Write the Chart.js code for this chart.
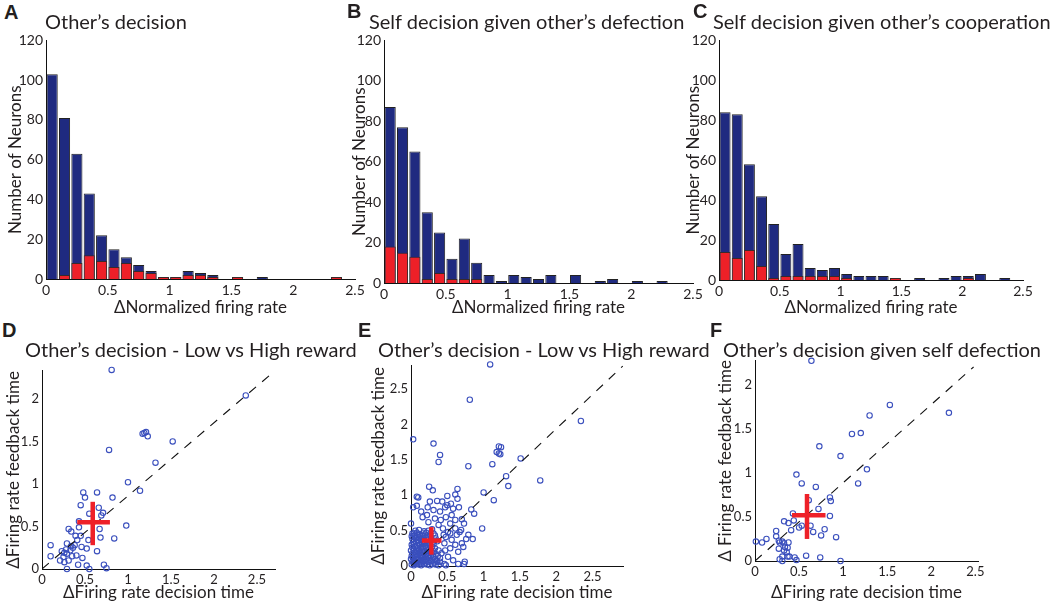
<!DOCTYPE html>
<html>
<head>
<meta charset="utf-8">
<script src="https://cdn.jsdelivr.net/npm/chart.js@4.4.1/dist/chart.umd.min.js"></script>
<style>
  body { margin: 0; background: #fff; width: 1050px; height: 604px; position: relative; overflow: hidden; font-family: Lato, sans-serif; color: #231f20; }
  canvas { position: absolute; }
  .letter { position: absolute; font: bold 20px "Liberation Sans", Arial, sans-serif; line-height: 1; }
  .title { position: absolute; font-size: 20px; line-height: 1; white-space: nowrap; }
</style>
</head>
<body>
<canvas id="chartA"></canvas>
<canvas id="chartB"></canvas>
<canvas id="chartC"></canvas>
<canvas id="chartD"></canvas>
<canvas id="chartE"></canvas>
<canvas id="chartF"></canvas>

<div class="letter" style="left:4px;top:2px">A</div>
<div class="letter" style="left:347px;top:1px">B</div>
<div class="letter" style="left:693px;top:1px">C</div>
<div class="letter" style="left:2px;top:320px">D</div>
<div class="letter" style="left:358px;top:320px">E</div>
<div class="letter" style="left:710px;top:320px">F</div>

<div class="title" style="left:45px;top:11px">Other’s decision</div>
<div class="title" style="left:369px;top:11px">Self decision given other’s defection</div>
<div class="title" style="left:713px;top:11px">Self decision given other’s cooperation</div>
<div class="title" style="left:25px;top:339px">Other’s decision - Low vs High reward</div>
<div class="title" style="left:378px;top:339px">Other’s decision - Low vs High reward</div>
<div class="title" style="left:723px;top:339px">Other’s decision given self defection</div>

<script>
// histogram bins (bin width 0.1)
const binCenters = [0.05, 0.15, 0.25, 0.35, 0.45, 0.55, 0.65, 0.75, 0.85, 0.95, 1.05, 1.15, 1.25,
                    1.35, 1.45, 1.55, 1.65, 1.75, 1.85, 1.95, 2.05, 2.15, 2.25, 2.35, 2.45];

const aAll = [103, 81, 63, 43, 22, 15, 11, 7, 4, 1, 1, 4, 3, 2, 0, 1, 0, 1, 0, 0, 0, 0, 0, 1, 0];
const aSig = [0, 2, 8, 12, 9, 6, 8, 4, 3, 1, 1, 2, 2, 1, 0, 1, 0, 0, 0, 0, 0, 0, 0, 1, 0];

const bAll = [87, 77, 65, 35, 25, 12, 22, 10, 4, 1, 4, 3, 2, 4, 0, 4, 0, 1, 2, 0, 1, 0, 1, 0, 0];
const bSig = [18, 15, 13, 2, 5, 2, 2, 2, 0, 0, 0, 0, 0, 0, 0, 0, 0, 0, 0, 0, 0, 0, 0, 0, 0];

const cAll = [84, 83, 58, 42, 28, 13, 18, 6, 5, 6, 3, 2, 2, 2, 1, 0, 1, 0, 1, 2, 2, 3, 0, 1, 0];
const cSig = [14, 11, 15, 7, 1, 2, 2, 2, 2, 2, 1, 0, 0, 0, 1, 0, 0, 0, 0, 0, 1, 0, 0, 0, 0];

const histTicksX = [0, 0.5, 1, 1.5, 2, 2.5];
const histTicksY = [0, 20, 40, 60, 80, 100, 120];

// scatter panels: [decision time, feedback time]
const dPoints = [
  [0.81, 2.34], [2.37, 2.04], [1.19, 1.60], [1.21, 1.61], [1.23, 1.56], [1.17, 1.59], [1.52, 1.50],
  [0.78, 1.40], [1.32, 1.25], [1.00, 1.02], [1.14, 0.92], [0.48, 0.90], [0.64, 0.90], [0.50, 0.84],
  [0.82, 0.84], [0.45, 0.75], [0.66, 0.72], [0.71, 0.66], [0.55, 0.65], [0.69, 0.63], [0.43, 0.56],
  [0.43, 0.49], [0.31, 0.47], [0.34, 0.44], [0.67, 0.47], [0.98, 0.51], [0.39, 0.39], [0.45, 0.39],
  [0.41, 0.34], [0.54, 0.34], [0.68, 0.37], [0.84, 0.36], [0.29, 0.30], [0.34, 0.27], [0.38, 0.28],
  [0.46, 0.26], [0.52, 0.24], [0.64, 0.21], [0.10, 0.28], [0.10, 0.15], [0.23, 0.21], [0.26, 0.19],
  [0.29, 0.18], [0.33, 0.22], [0.36, 0.25], [0.21, 0.10], [0.26, 0.08], [0.31, 0.10], [0.35, 0.15],
  [0.25, 0.14], [0.42, 0.05], [0.52, 0.04], [0.55, 0.00], [0.29, 0.00], [0.72, 0.05], [0.75, 0.01],
  [0.47, 0.13], [0.40, 0.16], [0.28, 0.23]
];

const ePoints = [
  [1.09, 2.85], [0.81, 2.35], [2.34, 2.05], [0.03, 1.79], [0.31, 1.73], [0.40, 1.57], [0.38, 1.47],
  [1.21, 1.69], [1.24, 1.68], [1.18, 1.61], [1.21, 1.59], [1.23, 1.58], [1.51, 1.52], [1.12, 1.44],
  [0.79, 1.41], [1.31, 1.27], [1.34, 1.13], [1.78, 1.21], [1.00, 1.04], [1.14, 0.93], [0.25, 1.12],
  [0.30, 1.07], [0.08, 0.98], [0.10, 0.97], [0.36, 0.92], [0.50, 0.99], [0.61, 1.01], [0.64, 1.09],
  [0.55, 0.88], [0.43, 0.91], [0.47, 0.83], [0.64, 0.95], [0.50, 0.86], [0.26, 0.91], [0.40, 0.77],
  [0.58, 0.81], [0.66, 0.83], [0.03, 0.83], [0.08, 0.85], [0.23, 0.83], [0.14, 0.77], [0.22, 0.72],
  [0.31, 0.79], [0.16, 0.69], [0.33, 0.67], [0.41, 0.65], [0.48, 0.69], [0.56, 0.72], [0.61, 0.65],
  [0.54, 0.60], [0.70, 0.66], [0.73, 0.60], [0.83, 0.80], [0.87, 0.74], [0.98, 0.53], [0.69, 0.51],
  [0.79, 0.44], [0.63, 0.44], [0.51, 0.48], [0.44, 0.53], [0.48, 0.41], [0.56, 0.37], [0.85, 0.38],
  [0.72, 0.27], [0.65, 0.20], [0.61, 0.30], [0.54, 0.25], [0.47, 0.22], [0.51, 0.13], [0.58, 0.08],
  [0.74, 0.06], [0.73, 0.03], [0.65, 0.03], [0.46, 0.03], [0.40, 0.06], [0.00, 0.60], [0.02, 0.46],
  [0.24, 0.62], [0.38, 0.58], [0.46, 0.32], [0.42, 0.18], [0.76, 0.38], [0.67, 0.48], [0.54, 0.46],
  [0.45, 0.44], [0.61, 0.53], [0.70, 0.32], [0.48, 0.01], [0.35, 0.08],
  // dense cluster near the origin
  [0.01, 0.02], [0.04, 0.01], [0.07, 0.03], [0.11, 0.02], [0.14, 0.01], [0.18, 0.03], [0.22, 0.02],
  [0.26, 0.01], [0.30, 0.03], [0.34, 0.02], [0.38, 0.01], [0.02, 0.06], [0.05, 0.07], [0.09, 0.05],
  [0.12, 0.06], [0.16, 0.07], [0.20, 0.05], [0.24, 0.06], [0.28, 0.07], [0.32, 0.05], [0.36, 0.06],
  [0.00, 0.10], [0.03, 0.11], [0.07, 0.09], [0.10, 0.10], [0.14, 0.11], [0.17, 0.09], [0.21, 0.10],
  [0.25, 0.11], [0.29, 0.09], [0.33, 0.10], [0.40, 0.11], [0.01, 0.14], [0.05, 0.15], [0.08, 0.13],
  [0.12, 0.14], [0.15, 0.15], [0.19, 0.13], [0.23, 0.14], [0.27, 0.15], [0.31, 0.13], [0.37, 0.14],
  [0.02, 0.18], [0.06, 0.19], [0.10, 0.17], [0.13, 0.18], [0.17, 0.19], [0.21, 0.17], [0.25, 0.18],
  [0.29, 0.19], [0.34, 0.17], [0.00, 0.22], [0.04, 0.23], [0.08, 0.21], [0.11, 0.22], [0.15, 0.23],
  [0.19, 0.21], [0.23, 0.22], [0.27, 0.23], [0.31, 0.21], [0.38, 0.22], [0.02, 0.26], [0.06, 0.27],
  [0.09, 0.25], [0.13, 0.26], [0.17, 0.27], [0.21, 0.25], [0.24, 0.26], [0.29, 0.27], [0.33, 0.25],
  [0.01, 0.30], [0.04, 0.31], [0.08, 0.29], [0.12, 0.30], [0.16, 0.31], [0.20, 0.29], [0.26, 0.30],
  [0.31, 0.31], [0.03, 0.34], [0.07, 0.35], [0.11, 0.33], [0.15, 0.34], [0.19, 0.35], [0.24, 0.33],
  [0.30, 0.34], [0.36, 0.35], [0.02, 0.38], [0.06, 0.39], [0.10, 0.37], [0.14, 0.38], [0.18, 0.39],
  [0.23, 0.37], [0.28, 0.38], [0.34, 0.39], [0.01, 0.42], [0.05, 0.43], [0.09, 0.41], [0.13, 0.42],
  [0.17, 0.43], [0.22, 0.41], [0.27, 0.42], [0.33, 0.43], [0.04, 0.46], [0.08, 0.47], [0.12, 0.45],
  [0.16, 0.46], [0.21, 0.47], [0.26, 0.45], [0.31, 0.46], [0.06, 0.50], [0.11, 0.51], [0.18, 0.49],
  [0.24, 0.50], [0.29, 0.52], [0.05, 0.04], [0.09, 0.08], [0.13, 0.04], [0.17, 0.12], [0.07, 0.16],
  [0.19, 0.07], [0.23, 0.19], [0.15, 0.20], [0.05, 0.28], [0.19, 0.32], [0.11, 0.40], [0.27, 0.35]
];

const fPoints = [
  [0.64, 2.27], [1.53, 1.77], [2.20, 1.68], [1.30, 1.65], [1.10, 1.44], [1.20, 1.45], [0.73, 1.30],
  [0.97, 1.19], [1.27, 1.04], [0.47, 0.98], [0.53, 0.88], [0.69, 0.84], [1.17, 0.88], [0.61, 0.69],
  [0.72, 0.59], [0.85, 0.72], [0.86, 0.68], [0.85, 0.51], [0.43, 0.54], [0.33, 0.45], [0.38, 0.43],
  [0.44, 0.46], [0.50, 0.38], [0.53, 0.40], [0.63, 0.40], [0.66, 0.33], [0.41, 0.35], [0.75, 0.29],
  [0.79, 0.36], [0.92, 0.27], [0.24, 0.34], [0.24, 0.28], [0.27, 0.23], [0.28, 0.21], [0.31, 0.22],
  [0.33, 0.20], [0.38, 0.21], [0.37, 0.15], [0.27, 0.14], [0.33, 0.12], [0.36, 0.10], [0.31, 0.05],
  [0.39, 0.05], [0.31, 0.00], [0.28, 0.02], [0.45, 0.04], [0.47, 0.01], [0.58, 0.06], [0.74, 0.04],
  [0.97, 0.00], [0.01, 0.22], [0.08, 0.21], [0.13, 0.25], [0.37, 0.05], [0.34, 0.16]
];

// axis extents [x max, y max], dashed diagonals and mean +/- spread crosses
const dAxisMax = [2.71, 2.33];
const eAxisMax = [2.92, 2.83];
const fAxisMax = [2.53, 2.27];
const dDiagonal = [[0, 0], [2.71, 2.33]];
const eDiagonal = [[0, 0], [2.92, 2.83]];
const fDiagonal = [[0, 0], [2.48, 2.20]];
const dCrossH = [[0.41, 0.55], [0.79, 0.55]];
const dCrossV = [[0.59, 0.28], [0.59, 0.79]];
const eCrossH = [[0.15, 0.36], [0.42, 0.36]];
const eCrossV = [[0.28, 0.16], [0.28, 0.55]];
const fCrossH = [[0.42, 0.52], [0.80, 0.52]];
const fCrossV = [[0.59, 0.25], [0.59, 0.76]];

const scatTicksX = [0, 0.5, 1, 1.5, 2, 2.5];
const dTicksY = [0, 0.5, 1, 1.5, 2];
const eTicksY = [0, 0.5, 1, 1.5, 2, 2.5];
const fTicksY = [0, 0.5, 1, 1.5, 2];

const ink = "#231f20";
const navy = "#1f2a80";
const red = "#ee2028";
const ringBlue = "#3a4fbd";

function placeCanvas(id, box) {
    const canvas = document.getElementById(id);
    canvas.width = box.w;
    canvas.height = box.h;
    canvas.style.left = box.x + "px";
    canvas.style.top = box.y + "px";
    return canvas;
}

function axisOptions(box, ticks, max, titleText, isX, fontSize) {
    return {
        type: "linear",
        min: 0,
        max: max,
        offset: false,
        border: { display: true, color: "#111", width: 1 },
        grid: { display: false, drawTicks: false },
        afterBuildTicks: scale => { scale.ticks = ticks.map(v => ({ value: v })); },
        afterFit: scale => {
            if (isX) scale.height = box.y + box.h - box.B;
            else scale.width = box.L - box.x;
        },
        ticks: {
            color: ink,
            padding: 3,
            autoSkip: false,
            maxRotation: 0,
            font: { family: "Lato", size: fontSize },
            callback: v => String(v)
        },
        title: {
            display: true,
            text: titleText,
            color: ink,
            font: { family: "Lato", size: 17 },
            padding: { top: 5, bottom: 0 }
        }
    };
}

function baseOptions(box) {
    return {
        responsive: false,
        animation: false,
        layout: { padding: { left: 0, top: box.T - box.y, right: box.x + box.w - box.R, bottom: 0 } },
        plugins: { legend: { display: false }, tooltip: { enabled: false } }
    };
}

function createHistogram(id, box, allCounts, sigCounts) {
    const canvas = placeCanvas(id, box);
    const opts = baseOptions(box);
    opts.scales = {
        x: axisOptions(box, histTicksX, 2.5, "ΔNormalized firing rate", true, 14),
        y: axisOptions(box, histTicksY, 120, "Number of Neurons", false, 14)
    };
    new Chart(canvas, {
        type: "bar",
        data: {
            datasets: [{
                data: binCenters.map((c, i) => ({ x: c, y: sigCounts[i] })),
                backgroundColor: red,
                borderColor: "#3a2a2a",
                borderWidth: 1,
                grouped: false,
                barPercentage: 0.9,
                categoryPercentage: 1
            }, {
                data: binCenters.map((c, i) => ({ x: c, y: allCounts[i] })),
                backgroundColor: navy,
                borderColor: "#222",
                borderWidth: 1,
                grouped: false,
                barPercentage: 0.9,
                categoryPercentage: 1
            }]
        },
        options: opts
    });
}

function createScatter(id, box, points, diagonal, crossH, crossV, axisMax, ticksY, yTitle) {
    const canvas = placeCanvas(id, box);
    const toXY = list => list.map(p => ({ x: p[0], y: p[1] }));
    const opts = baseOptions(box);
    opts.scales = {
        x: axisOptions(box, scatTicksX, axisMax[0], "ΔFiring rate decision time", true, 13),
        y: axisOptions(box, ticksY, axisMax[1], yTitle, false, 13)
    };
    new Chart(canvas, {
        type: "scatter",
        data: {
            datasets: [
                { type: "line", data: toXY(crossH), borderColor: red, borderWidth: 4.5, pointRadius: 0, clip: false },
                { type: "line", data: toXY(crossV), borderColor: red, borderWidth: 4.5, pointRadius: 0, clip: false },
                { type: "line", data: toXY(diagonal), borderColor: "#111", borderWidth: 1.1, borderDash: [9, 8], pointRadius: 0 },
                {
                    data: toXY(points),
                    pointRadius: 2.7,
                    borderWidth: 1.1,
                    borderColor: ringBlue,
                    backgroundColor: "rgba(0,0,0,0)",
                    clip: false
                }
            ]
        },
        options: opts
    });
}

createHistogram("chartA", { x: 0, y: 29, w: 369, h: 289, L: 46, T: 39, R: 355, B: 279 }, aAll, aSig);
createHistogram("chartB", { x: 344, y: 29, w: 363, h: 289, L: 384, T: 39, R: 693, B: 283 }, bAll, bSig);
createHistogram("chartC", { x: 678, y: 29, w: 359, h: 289, L: 719, T: 39, R: 1023, B: 280 }, cAll, cSig);

createScatter("chartD", { x: -2, y: 360, w: 291, h: 243, L: 42, T: 370, R: 275, B: 569 },
    dPoints, dDiagonal, dCrossH, dCrossV, dAxisMax, dTicksY, "ΔFiring rate feedback time");
createScatter("chartE", { x: 363, y: 355, w: 274, h: 248, L: 411, T: 365, R: 623, B: 566 },
    ePoints, eDiagonal, eCrossH, eCrossV, eAxisMax, eTicksY, "ΔFiring rate feedback time");
createScatter("chartF", { x: 710, y: 350, w: 282, h: 253, L: 755, T: 360, R: 978, B: 561 },
    fPoints, fDiagonal, fCrossH, fCrossV, fAxisMax, fTicksY, "Δ Firing rate feedback time");
</script>
</body>
</html>
